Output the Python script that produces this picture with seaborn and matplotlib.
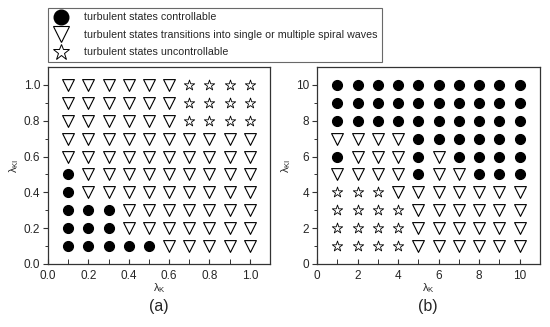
import numpy as np
import pandas as pd
import seaborn as sns
import matplotlib.pyplot as plt
from matplotlib.lines import Line2D

# class codes: C = controllable, T = transitions to spiral waves, S = uncontrollable
# rows listed from top (largest lambda_KI) to bottom
xa = [0.1, 0.2, 0.3, 0.4, 0.5, 0.6, 0.7, 0.8, 0.9, 1.0]
ya = [1.0, 0.9, 0.8, 0.7, 0.6, 0.5, 0.4, 0.3, 0.2, 0.1]
grid_a = [
    "TTTTTTSSSS",
    "TTTTTTSSSS",
    "TTTTTTSSSS",
    "TTTTTTTTTT",
    "TTTTTTTTTT",
    "CTTTTTTTTT",
    "CTTTTTTTTT",
    "CCCTTTTTTT",
    "CCCTTTTTTT",
    "CCCCCTTTTT",
]

xb = [1, 2, 3, 4, 5, 6, 7, 8, 9, 10]
yb = [10, 9, 8, 7, 6, 5, 4, 3, 2, 1]
grid_b = [
    "CCCCCCCCCC",
    "CCCCCCCCCC",
    "CCCCCCCCCC",
    "TTTTCCCCCC",
    "CTTTCTCCCC",
    "TTTTCTTCCC",
    "SSSTTTTTTT",
    "SSSSTTTTTT",
    "SSSSTTTTTT",
    "SSSSTTTTTT",
]

labels = {
    "C": "turbulent states controllable",
    "T": "turbulent states transitions into single or multiple spiral waves",
    "S": "turbulent states uncontrollable",
}


def to_frame(xs, ys, grid):
    rows = []
    for j, y in enumerate(ys):
        for i, x in enumerate(xs):
            rows.append({"x": x, "y": y, "state": grid[j][i]})
    return pd.DataFrame(rows)


df_a = to_frame(xa, ya, grid_a)
df_b = to_frame(xb, yb, grid_b)

sns.set_style("ticks")
plt.rcParams["font.family"] = ["Liberation Sans", "DejaVu Sans"]
plt.rcParams["mathtext.fontset"] = "custom"
plt.rcParams["mathtext.rm"] = "Liberation Sans"
plt.rcParams["mathtext.it"] = "Liberation Sans"

styles = {
    "C": dict(marker="o", s=52, facecolor="black", edgecolor="black", linewidth=0.8),
    "T": dict(marker="v", s=72, facecolor="white", edgecolor="black", linewidth=0.8),
    "S": dict(marker="*", s=62, facecolor="white", edgecolor="black", linewidth=0.6),
}

fig = plt.figure(figsize=(5.5, 3.27), dpi=100)
ax_a = fig.add_axes([48 / 550, 1 - 264 / 327, 222 / 550, 197 / 327])
ax_b = fig.add_axes([317 / 550, 1 - 264 / 327, 223 / 550, 197 / 327])


def draw(ax, df, lim, major, minor, fmt):
    for key in ["C", "T", "S"]:
        sub = df[df["state"] == key]
        sns.scatterplot(data=sub, x="x", y="y", ax=ax, legend=False, **styles[key])
    ax.set_xlim(0, lim)
    ax.set_ylim(0, lim)
    ax.set_xticks(major)
    ax.set_yticks(major)
    ax.set_xticks(minor, minor=True)
    ax.set_yticks(minor, minor=True)
    ax.set_xticklabels([fmt(v) for v in major])
    ax.set_yticklabels([fmt(v) for v in major])
    ax.tick_params(which="both", labelsize=8.5, color="#333333")
    ax.tick_params(axis="x", which="major", length=3.5, width=0.8, direction="in", pad=4)
    ax.tick_params(axis="x", which="minor", length=3.5, width=0.7, direction="in")
    ax.tick_params(axis="y", which="major", length=3.5, width=0.8, direction="out", pad=2)
    ax.tick_params(axis="y", which="minor", length=2.5, width=0.7, direction="out")
    for sp in ax.spines.values():
        sp.set_linewidth(0.9)
        sp.set_color("#333333")
    ax.set_xlabel(r"$\lambda_{\rm K}$", fontsize=8, labelpad=0)
    ax.set_ylabel(r"$\lambda_{\rm KI}$", fontsize=8, labelpad=2)


draw(ax_a, df_a, 1.1,
     [0.0, 0.2, 0.4, 0.6, 0.8, 1.0],
     [0.1, 0.3, 0.5, 0.7, 0.9],
     lambda v: f"{v:.1f}")
draw(ax_b, df_b, 11,
     [0, 2, 4, 6, 8, 10],
     [1, 3, 5, 7, 9],
     lambda v: f"{v:d}")

fig.text(159 / 550, 1 - 306 / 327, "(a)", ha="center", va="center", fontsize=11.5)
fig.text(428 / 550, 1 - 306 / 327, "(b)", ha="center", va="center", fontsize=11.5)

handles = [
    Line2D([], [], linestyle="none", marker="o", markersize=10.5, markerfacecolor="black", markeredgecolor="black"),
    Line2D([], [], linestyle="none", marker="v", markersize=12, markerfacecolor="white", markeredgecolor="black", markeredgewidth=0.8),
    Line2D([], [], linestyle="none", marker="*", markersize=12, markerfacecolor="white", markeredgecolor="black", markeredgewidth=0.7),
]
leg = fig.legend(handles, [labels["C"], labels["T"], labels["S"]],
                 loc="upper left", bbox_to_anchor=(48 / 550, 1 - 8 / 327),
                 fontsize=7.7, frameon=True, fancybox=False, borderaxespad=0,
                 handletextpad=1.4, labelspacing=0.7, borderpad=0.4, handlelength=1.6)
leg.get_frame().set_edgecolor("#444444")
leg.get_frame().set_linewidth(0.8)

fig.savefig("out.png", dpi=100)
